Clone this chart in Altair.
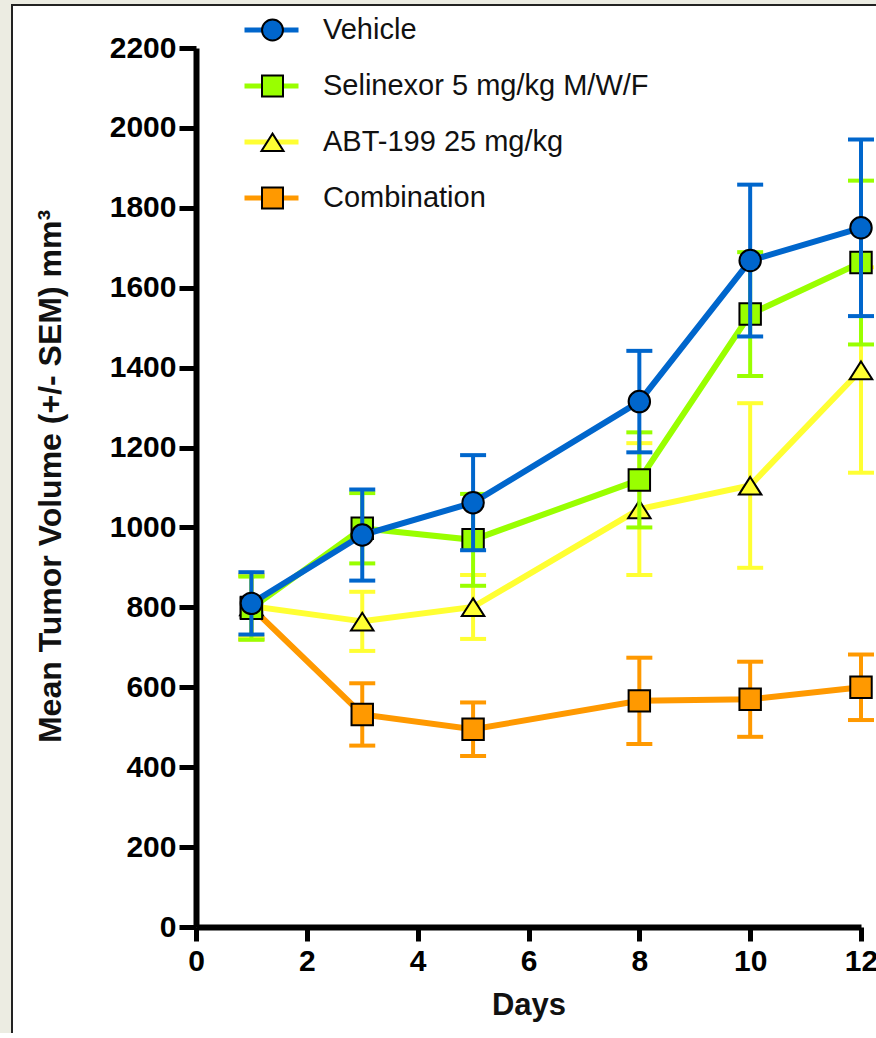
import altair as alt
import pandas as pd

# ---- data ----
days = [1, 3, 5, 8, 10, 12]
names = ["Vehicle", "Selinexor 5 mg/kg M/W/F", "ABT-199 25 mg/kg", "Combination"]
colors = ["#0066CC", "#99FF00", "#FFFF33", "#FF9900"]
triangle = "M0,-0.8L1.05,0.85L-1.05,0.85Z"
shapes = ["circle", "square", triangle, "square"]

vehicle_mean = [810, 981, 1062, 1315, 1668, 1750]
vehicle_sem = [78, 114, 119, 127, 190, 221]
selinexor_mean = [798, 998, 969, 1119, 1534, 1663]
selinexor_sem = [79, 88, 115, 119, 155, 205]
abt_mean = [803, 765, 801, 1046, 1105, 1394]
abt_sem = [76, 74, 80, 165, 206, 257]
combo_mean = [800, 532, 495, 566, 570, 600]
combo_sem = [80, 78, 67, 108, 94, 82]

y_ticks = list(range(0, 2201, 200))
x_ticks = list(range(0, 13, 2))

means = [vehicle_mean, selinexor_mean, abt_mean, combo_mean]
sems = [vehicle_sem, selinexor_sem, abt_sem, combo_sem]

rows = []
for n, m, s in zip(names, means, sems):
    for d, mv, sv in zip(days, m, s):
        rows.append({"group": n, "gl": n + " ", "day": d, "mean": mv, "sem": sv})
df = pd.DataFrame(rows)

FONT = "Liberation Sans"
colmap = dict(zip(names, colors))

x_enc = alt.X(
    "day:Q",
    scale=alt.Scale(domain=[0, 12], nice=False, zero=False),
    axis=alt.Axis(
        values=x_ticks, title="Days", grid=False, zindex=2, format="d",
        domainColor="black", domainWidth=6, tickColor="black", tickWidth=5, tickSize=14,
        labelFont=FONT, labelFontSize=30, labelFontWeight="bold", labelColor="black",
        labelPadding=5, labelFlush=False, labelOverlap=False,
        titleFont=FONT, titleFontSize=31, titleFontWeight="bold", titleColor="#111",
        titlePadding=14,
    ),
)
y_axis = alt.Axis(
    values=y_ticks, title="Mean Tumor Volume (+/- SEM) mm³", grid=False, zindex=2, format="d",
    domainColor="black", domainWidth=6, tickColor="black", tickWidth=5, tickSize=17,
    labelFont=FONT, labelFontSize=30, labelFontWeight="bold", labelColor="black",
    labelPadding=3, labelFlush=False, labelOverlap=False,
    titleFont=FONT, titleFontSize=32, titleFontWeight="bold", titleColor="#111",
    titlePadding=42, titleY=428,
)
y_scale = alt.Scale(domain=[0, 2200], nice=False)

line_legend = alt.Legend(
    orient="none", legendX=46, legendY=-46, direction="vertical",
    symbolType="stroke", symbolSize=2916, symbolStrokeWidth=5,
    clipHeight=56, rowPadding=0, padding=0,
    labelFont=FONT, labelFontSize=29, labelOpacity=0, labelOffset=21, labelLimit=600,
)
pt_legend = alt.Legend(
    orient="none", legendX=62, legendY=-46, direction="vertical",
    symbolSize=440, symbolStrokeWidth=2, symbolOpacity=1,
    clipHeight=56, rowPadding=0, padding=0,
    labelFont=FONT, labelFontSize=29, labelColor="#111", labelOffset=36, labelLimit=600,
)

line_scale = alt.Scale(domain=[n + " " for n in names], range=colors)
fill_scale = alt.Scale(domain=names, range=colors)
shape_scale = alt.Scale(domain=names, range=shapes)
stroke_scale = alt.Scale(domain=names, range=["black"] * len(names))

# white panel with a dark frame (decoration)
panel = alt.Chart(pd.DataFrame({"k": [0]})).mark_rect(
    fill="white", stroke="#222", strokeWidth=2
).encode(x=alt.value(-184), x2=alt.value(720), y=alt.value(-43), y2=alt.value(1100))

base = alt.Chart(df).transform_calculate(
    lo="datum.mean - datum.sem", hi="datum.mean + datum.sem"
)

layers = [panel]
draw_order = ["Combination", "ABT-199 25 mg/kg", "Selinexor 5 mg/kg M/W/F", "Vehicle"]
for name in draw_order:
    sub = base.transform_filter(alt.datum.group == name)
    c = colmap[name]
    err = sub.mark_rule(strokeWidth=4, color=c).encode(
        x=x_enc, y=alt.Y("lo:Q", scale=y_scale, axis=y_axis), y2="hi:Q"
    )
    caps = sub.transform_fold(["lo", "hi"], as_=["end", "val"]).mark_tick(
        orient="horizontal", size=26, thickness=4, color=c, opacity=1
    ).encode(x=x_enc, y=alt.Y("val:Q", scale=y_scale, axis=y_axis))
    line = sub.mark_line(strokeWidth=6).encode(
        x=x_enc,
        y=alt.Y("mean:Q", scale=y_scale, axis=y_axis),
        color=alt.Color("gl:N", scale=line_scale, legend=line_legend, title=None),
    )
    pts = sub.mark_point(filled=True, size=460, strokeWidth=2, opacity=1).encode(
        x=x_enc,
        y=alt.Y("mean:Q", scale=y_scale, axis=y_axis),
        fill=alt.Fill("group:N", scale=fill_scale, legend=pt_legend, title=None),
        shape=alt.Shape("group:N", scale=shape_scale, legend=pt_legend, title=None),
        stroke=alt.Stroke("group:N", scale=stroke_scale, legend=pt_legend, title=None),
    )
    layers += [err, caps, line, pts]

chart = alt.layer(*layers).properties(
    width=665,
    height=879,
    padding={"left": 196, "top": 48, "right": 15, "bottom": 106},
    autosize=alt.AutoSizeParams(type="none"),
).configure(
    background="#ECECE2", font=FONT
).configure_view(stroke=None)

chart.save("out.html", embed_options={"renderer": "svg", "actions": False})
